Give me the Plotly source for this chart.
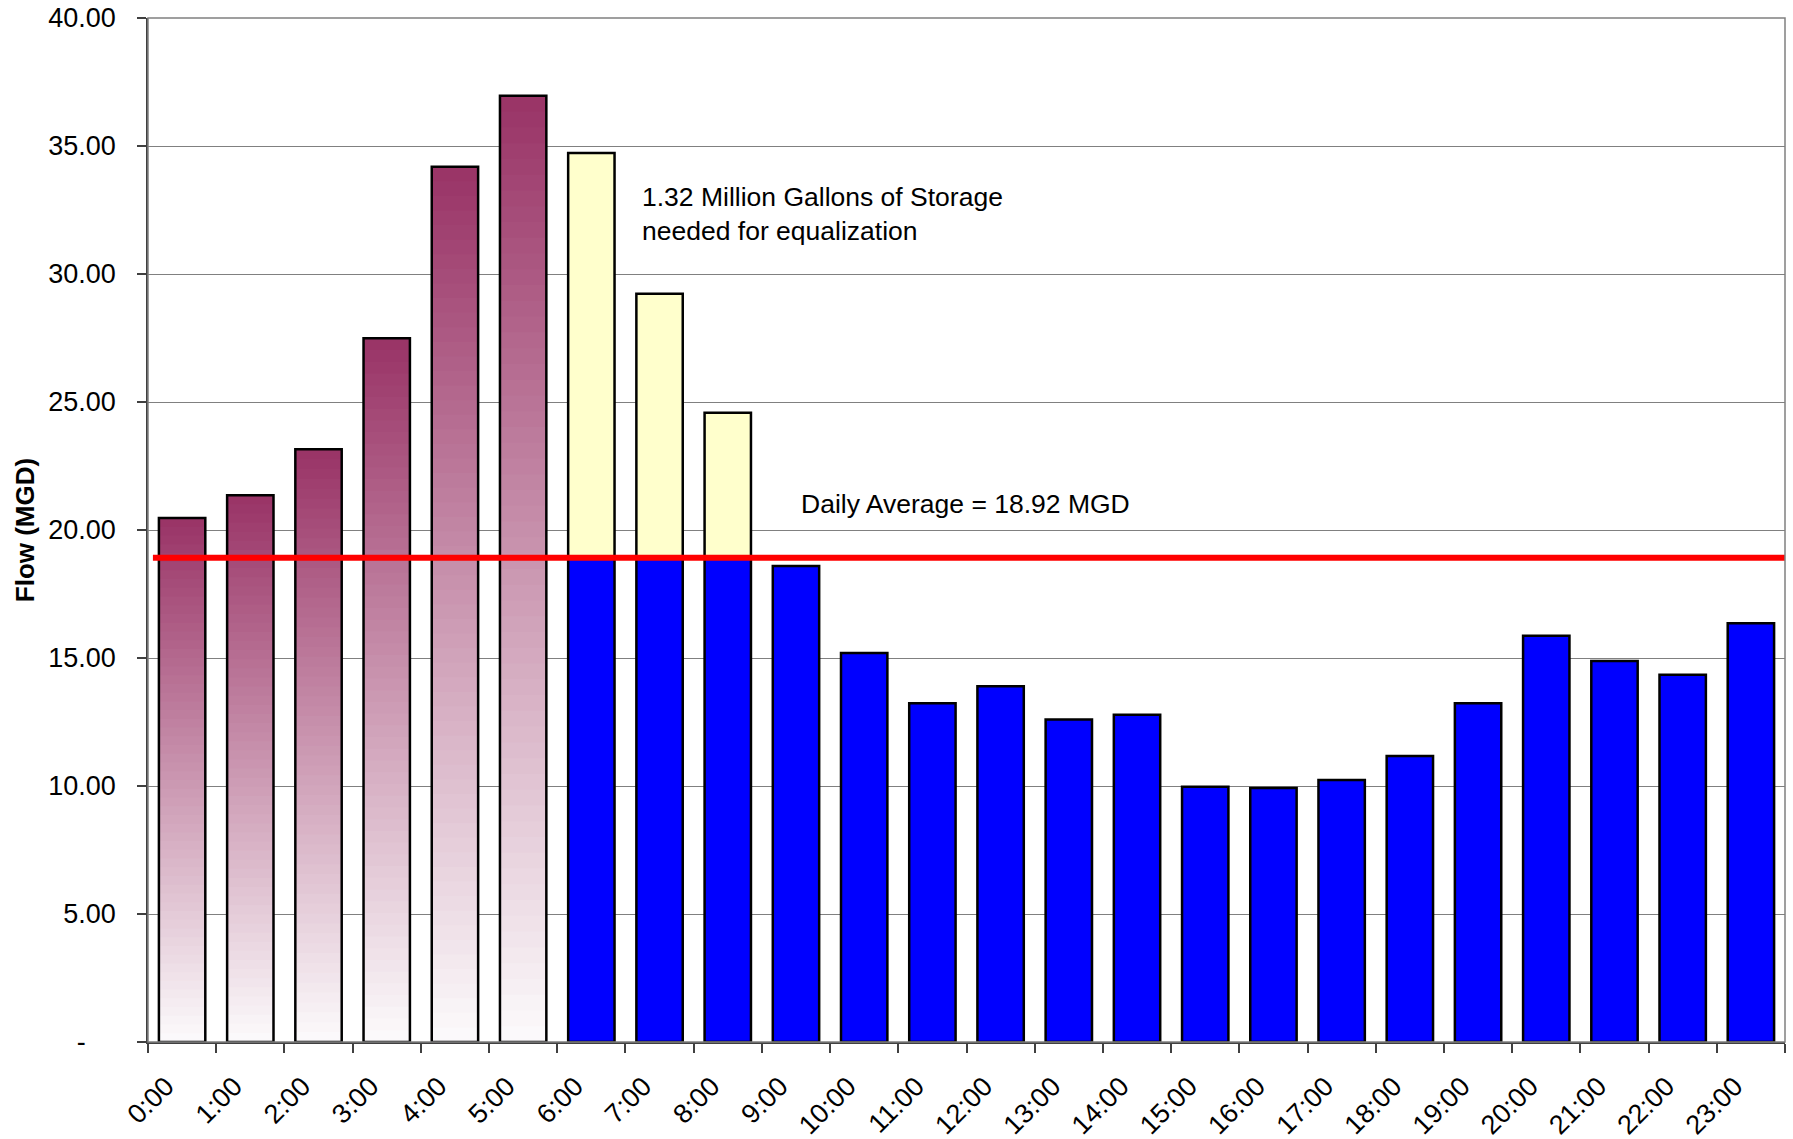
import plotly.graph_objects as go

hours = ["0:00", "1:00", "2:00", "3:00", "4:00", "5:00", "6:00", "7:00", "8:00", "9:00",
         "10:00", "11:00", "12:00", "13:00", "14:00", "15:00", "16:00", "17:00", "18:00",
         "19:00", "20:00", "21:00", "22:00", "23:00"]
flow = [20.47, 21.36, 23.15, 27.49, 34.19, 36.96, 34.73, 29.23, 24.58, 18.59,
        15.20, 13.23, 13.90, 12.60, 12.78, 9.97, 9.92, 10.23, 11.17, 13.23,
        15.87, 14.88, 14.35, 16.36]
daily_average = 18.92
fill_hours = hours[0:6]          # hours when storage fills (gradient bars)
draw_hours = hours[6:9]          # hours when storage is drawn down (yellow above average)
low_hours = hours[6:]            # blue portion
y_tickvals = [0, 5, 10, 15, 20, 25, 30, 35, 40]
y_ticktext = ["-\u00a0\u00a0\u00a0\u00a0", "5.00", "10.00", "15.00", "20.00", "25.00", "30.00", "35.00", "40.00"]
note_storage = "1.32 Million Gallons of Storage<br>needed for equalization"
note_average = "Daily Average = 18.92 MGD"

FONT = "Liberation Sans, Arial, sans-serif"
FS = 27
BAR_W = 0.68
TOP = (153, 51, 102)
BOT = (252, 251, 252)
N = 60

fig = go.Figure()

fill_vals = [flow[hours.index(h)] for h in fill_hours]
for k in range(N):
    t = (k + 0.5) / N
    c = tuple(round(BOT[i] + (TOP[i] - BOT[i]) * t) for i in range(3))
    seg = 2.0 if k < N - 1 else 1.0
    fig.add_trace(go.Bar(
        x=fill_hours,
        y=[v / N * seg for v in fill_vals],
        base=[v * k / N for v in fill_vals],
        width=BAR_W, marker=dict(color="rgb(%d,%d,%d)" % c, line=dict(width=0)),
        showlegend=False, hoverinfo="skip"))

fig.add_trace(go.Bar(
    x=fill_hours, y=fill_vals, width=BAR_W,
    marker=dict(color="rgba(0,0,0,0)", line=dict(color="black", width=2.5)),
    showlegend=False))

low_vals = [min(flow[hours.index(h)], daily_average) for h in low_hours]
fig.add_trace(go.Bar(
    x=low_hours, y=low_vals, width=BAR_W,
    marker=dict(color="#0000FF", line=dict(color="black", width=2.5)),
    showlegend=False))

draw_vals = [flow[hours.index(h)] - daily_average for h in draw_hours]
fig.add_trace(go.Bar(
    x=draw_hours, y=draw_vals, base=[daily_average] * len(draw_hours), width=BAR_W,
    marker=dict(color="#FFFFCC", line=dict(color="black", width=2.5)),
    showlegend=False))

fig.add_shape(type="line", xref="x domain", yref="y", x0=0.003, x1=1,
              y0=daily_average, y1=daily_average,
              line=dict(color="#FF0000", width=6), layer="above")
fig.add_shape(type="rect", xref="x domain", yref="y domain", x0=0, x1=1, y0=0, y1=1,
              line=dict(color="#808080", width=1.5), layer="above")

fig.add_annotation(text=note_storage, x=6.71, y=32.35, xref="x", yref="y",
                   xanchor="left", yanchor="middle", align="left", showarrow=False,
                   font=dict(family=FONT, size=26.5, color="black"))
fig.add_annotation(text=note_average, x=9.05, y=21.0, xref="x", yref="y",
                   xanchor="left", yanchor="middle", align="left", showarrow=False,
                   font=dict(family=FONT, size=26.5, color="black"))
fig.add_annotation(text="<b>Flow (MGD)</b>", x=-0.075, y=0.5, xref="paper", yref="paper",
                   textangle=-90, showarrow=False, xanchor="center", yanchor="middle",
                   font=dict(family=FONT, size=FS - 1, color="black"))

fig.update_layout(
    width=1793, height=1139,
    margin=dict(l=148, r=8, t=18, b=97),
    barmode="overlay",
    plot_bgcolor="white", paper_bgcolor="white",
    font=dict(family=FONT, size=FS, color="black"),
    xaxis=dict(type="category", categoryorder="array", categoryarray=hours,
               range=[-0.5, 23.5], tickson="boundaries", ticks="outside", ticklen=9,
               tickcolor="#404040", tickwidth=1.5, showline=True, linecolor="#404040",
               linewidth=1.5, showgrid=False, tickangle=-45, automargin=False,
               ticklabelstandoff=16, ticklabelshift=-16, ticklabeloverflow="allow",
               tickfont=dict(family=FONT, size=FS, color="black")),
    yaxis=dict(range=[0, 40], tickvals=y_tickvals, ticktext=y_ticktext,
               showgrid=True, gridcolor="#808080", gridwidth=1, zeroline=False,
               showline=True, linecolor="#404040", linewidth=1.5, ticks="outside",
               ticklen=9, tickcolor="#404040", tickwidth=1.5, automargin=False,
               ticklabelstandoff=16, ticklabeloverflow="allow",
               tickfont=dict(family=FONT, size=FS, color="black")),
)

fig.write_html("out.html", config={"displayModeBar": False},
               post_script="document.body.style.margin='0';")
